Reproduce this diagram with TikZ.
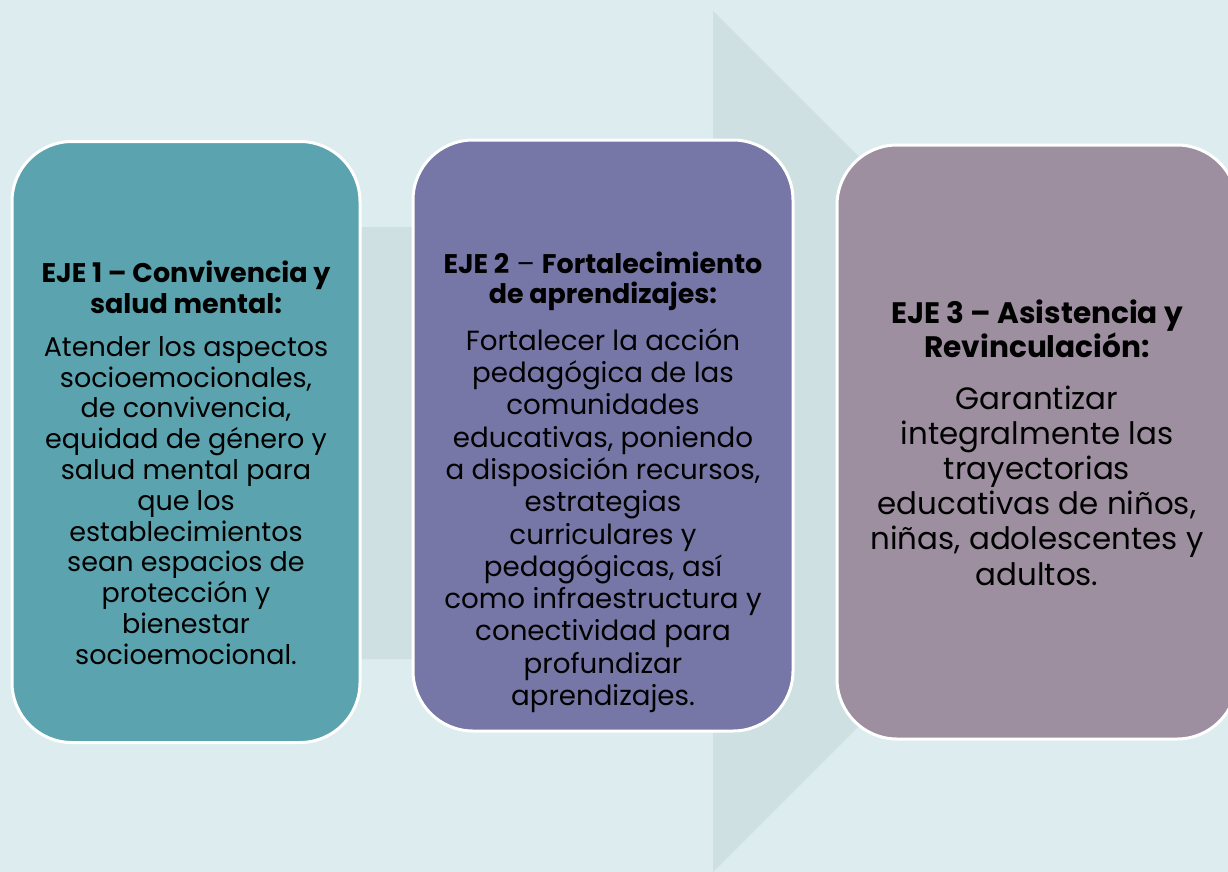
\documentclass[tikz,border=0pt]{standalone}
\usepackage{fontspec}
\setmainfont{Poppins}
\definecolor{bgc}{HTML}{DDECEF}
\definecolor{arrowc}{HTML}{CFE0E3}
\definecolor{teal1}{HTML}{5BA3AE}
\definecolor{purple2}{HTML}{7676A7}
\definecolor{mauve3}{HTML}{9D8FA0}
\tikzset{
  ejebox/.style={rectangle, rounded corners=60pt, draw=white, line width=3pt, inner sep=0pt},
  ejetext/.style={inner sep=0pt, align=center, text=black, anchor=north}
}
\begin{document}
\begin{tikzpicture}[x=1pt,y=-1pt]
\useasboundingbox (0,0) rectangle (1228,872);
\clip (0,0) rectangle (1228,872);
\fill[bgc] (0,0) rectangle (1228,872);
\fill[arrowc] (100,227) -- (713,227) -- (713,11) -- (1144,441.5) -- (713,872) -- (713,659) -- (100,659) -- cycle;
\node[ejebox, fill=teal1, minimum width=348pt, minimum height=601pt] (b1) at (186,442) {};
\node[ejebox, fill=purple2, minimum width=380pt, minimum height=591pt] (b2) at (603,435.5) {};
\node[ejebox, fill=mauve3, minimum width=400pt, minimum height=594pt] (b3) at (1037,442) {};
% box 1
\node[ejetext, font=\bfseries\fontsize{27}{31}\selectfont] (t1a) at (186,249.6) {\rule{0pt}{1.2em}EJE 1 – Convivencia y\\salud mental:};
\node[ejetext, font=\fontsize{27}{30.8}\selectfont] (t1b) at (186,323.6) {\rule{0pt}{1.2em}Atender los aspectos\\socioemocionales,\\de convivencia,\\equidad de género y\\salud mental para\\que los\\establecimientos\\sean espacios de\\protección y\\bienestar\\socioemocional.};
% box 2
\node[ejetext, font=\fontsize{26.9}{30}\selectfont] (t2a) at (603,240.7) {\rule{0pt}{1.2em}\textbf{EJE 2} – \textbf{Fortalecimiento}\\\textbf{de aprendizajes:}};
\node[ejetext, font=\fontsize{27.7}{32.3}\selectfont] (t2b) at (603,316.8) {\rule{0pt}{1.2em}Fortalecer la acción\\pedagógica de las\\comunidades\\educativas, poniendo\\a disposición recursos,\\estrategias\\curriculares y\\pedagógicas, así\\como infraestructura y\\conectividad para\\profundizar\\aprendizajes.};
% box 3
\node[ejetext, font=\bfseries\fontsize{29.6}{34}\selectfont] (t3a) at (1037,287.5) {\rule{0pt}{1.2em}EJE 3 – Asistencia y\\Revinculación:};
\node[ejetext, font=\fontsize{30.9}{35.2}\selectfont] (t3b) at (1037,371.9) {\rule{0pt}{1.2em}Garantizar\\integralmente las\\trayectorias\\educativas de niños,\\niñas, adolescentes y\\adultos.};
\end{tikzpicture}
\end{document}
